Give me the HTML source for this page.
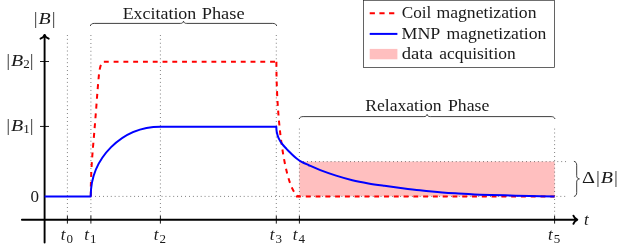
<!DOCTYPE html>
<html><head><meta charset="utf-8">
<style>
html,body{margin:0;padding:0;background:#fff;}
body{width:623px;height:248px;overflow:hidden;font-family:"Liberation Serif",serif;}
svg{display:block;will-change:transform;opacity:0.999;}
text{font-family:"Liberation Serif",serif;fill:#1a1a1a;font-size:17px;}
.i{font-style:italic;}
.s{font-size:13px;}
</style></head><body>
<svg width="623" height="248" viewBox="0 0 623 248">
<rect width="623" height="248" fill="#fff"/>
<rect x="299.4" y="161.6" width="255.2" height="34.7" fill="#ffbfbf"/>
<g stroke="#222" stroke-width="0.75" stroke-dasharray="0.75 3.16" fill="none">
<path d="M67.4 35V219.75"/>
<path d="M90.9 35.2V219.75"/>
<path d="M160.4 35V219.75"/>
<path d="M276.3 35V219.75"/>
<path d="M299.4 128.7V219.75"/>
<path d="M554.6 128.7V219.75"/>
<path d="M95.2 196.4H567.6"/>
<path d="M299.4 161.6H567.6"/>
</g>
<g stroke="#000" stroke-width="1.9" fill="none" stroke-linecap="round" stroke-linejoin="round">
<path d="M21.9 219.75H576.3"/>
<path d="M44.6 242.5V35.2"/>
<path d="M40.5 38.7C42.300000000000004 38 44.1 36.3 44.6 34.9C45.1 36.3 46.9 38 48.7 38.7"/>
<path d="M573.4 215.65C574.1 217.45 576 219.25 577.3 219.75C576 220.25 574.1 222.05 573.4 223.85"/>
</g>
<g stroke="#000" stroke-width="0.9" fill="none">
<path d="M40 61.5H49M40 126.45H49"/>
<path d="M67.4 215.800V223.6M90.9 215.800V223.6M160.4 215.800V223.6M276.3 215.800V223.6M299.4 215.800V223.6M554.6 215.800V223.6"/>
</g>
<g stroke="#f00" stroke-width="2" stroke-dasharray="4.89 4.89" fill="none">
<path d="M90.80 196.40C90.82 194.33 90.78 188.73 90.90 184.00C91.02 179.27 91.22 173.33 91.50 168.00C91.78 162.67 92.13 158.00 92.60 152.00C93.07 146.00 93.73 138.83 94.30 132.00C94.87 125.17 95.47 117.83 96.00 111.00C96.53 104.17 97.00 97.13 97.50 91.00C98.00 84.87 98.60 77.95 99.00 74.20C99.40 70.45 99.53 70.15 99.90 68.50C100.27 66.85 100.53 65.43 101.20 64.30C101.87 63.17 103.45 62.13 103.90 61.70"/>
<path d="M103.85 61.7H276.4"/>
<path d="M276.40 61.70 C276.40 136.09 288.00 196.40 299.60 196.40"/>
<path d="M296 196.4H554.6"/>
</g>
<path d="M44.60 196.40H90.70C90.70 157.90 121.90 126.65 160.40 126.65H276.3C276.38 127.54 276.37 130.09 276.75 132.00C277.13 133.91 277.68 136.07 278.60 138.10C279.53 140.13 280.95 142.37 282.30 144.20C283.65 146.03 285.32 147.63 286.70 149.10C288.08 150.57 289.00 151.48 290.60 153.00C292.20 154.52 294.47 156.73 296.30 158.20C298.13 159.67 299.58 160.67 301.60 161.80C303.62 162.93 305.28 163.62 308.40 165.00C311.52 166.38 315.68 168.33 320.30 170.10C324.92 171.87 330.77 173.92 336.10 175.60C341.43 177.28 346.92 178.90 352.30 180.20C357.68 181.50 363.03 182.47 368.40 183.40C373.77 184.33 379.13 185.05 384.50 185.80C389.87 186.55 394.68 187.17 400.60 187.90C406.52 188.63 413.05 189.45 420.00 190.20C426.95 190.95 435.90 191.85 442.30 192.40C448.70 192.95 453.03 193.17 458.40 193.50C463.77 193.83 469.13 194.15 474.50 194.40C479.87 194.65 484.68 194.82 490.60 195.00C496.52 195.18 503.43 195.33 510.00 195.50C516.57 195.67 522.57 195.85 530.00 196.00C537.43 196.15 550.50 196.33 554.60 196.40" stroke="#00f" stroke-width="2" fill="none" stroke-linejoin="round"/>
<g stroke="#2a2a2a" stroke-width="0.9" fill="none" stroke-linecap="round">
<path d="M90.40 25.60C90.70 24.30 92.00 23.40 94.20 23.40H180.30C182.10 23.40 183.20 22.70 183.50 21.20C183.80 22.70 184.90 23.40 186.70 23.40H272.80C275.00 23.40 276.30 24.30 276.60 25.60"/>
<path d="M299.30 118.60C299.60 117.50 300.90 116.60 303.10 116.60H423.90C425.70 116.60 426.80 115.90 427.10 114.40C427.40 115.90 428.50 116.60 430.30 116.60H551.10C553.30 116.60 554.60 117.50 554.90 118.60"/>
<path d="M574.30 161.40C575.80 161.70 576.70 163.00 576.70 165.20V175.70C576.70 177.50 577.40 178.60 579.40 178.90C577.40 179.20 576.70 180.30 576.70 182.10V192.60C576.70 194.80 575.80 196.10 574.30 196.40"/>
</g>
<rect x="363.500" y="0.3" width="191" height="67.100" fill="#fff" stroke="#222" stroke-width="0.7"/>
<path d="M369.700 13.300H395" stroke="#f00" stroke-width="2" stroke-dasharray="5.200 4.500"/>
<path d="M369.700 33.900H397.400" stroke="#00f" stroke-width="2"/>
<rect x="369.700" y="48.900" width="27.700" height="10.400" fill="#ffbfbf"/>
<text x="401.70" y="18.4" textLength="29.62" lengthAdjust="spacingAndGlyphs">Coil</text>
<text x="436.46" y="18.4" textLength="100.10" lengthAdjust="spacingAndGlyphs">magnetization</text>
<text x="401.44" y="38.7" textLength="38.88" lengthAdjust="spacingAndGlyphs">MNP</text>
<text x="446.48" y="38.7" textLength="99.84" lengthAdjust="spacingAndGlyphs">magnetization</text>
<text x="401.70" y="58.8" textLength="31.08" lengthAdjust="spacingAndGlyphs">data</text>
<text x="439.20" y="58.8" textLength="76.60" lengthAdjust="spacingAndGlyphs">acquisition</text>
<text x="122.68" y="18.6" textLength="73.60" lengthAdjust="spacingAndGlyphs">Excitation</text>
<text x="201.68" y="18.6" textLength="42.88" lengthAdjust="spacingAndGlyphs">Phase</text>
<text x="365.20" y="111.1" textLength="76.34" lengthAdjust="spacingAndGlyphs">Relaxation</text>
<text x="447.96" y="111.1" textLength="41.32" lengthAdjust="spacingAndGlyphs">Phase</text>
<g id="lblB"><text x="34" y="23.800">|</text><text x="38.500" y="23.800" class="i" textLength="12.200" lengthAdjust="spacingAndGlyphs">B</text><text x="52" y="23.800">|</text></g>
<g><text x="6.500" y="65.900">|</text><text x="11" y="65.900" class="i" textLength="12.200" lengthAdjust="spacingAndGlyphs">B</text><text x="23.300" y="68" class="s">2</text><text x="30.100" y="65.900">|</text></g>
<g><text x="6.500" y="130.700">|</text><text x="11" y="130.700" class="i" textLength="12.200" lengthAdjust="spacingAndGlyphs">B</text><text x="23.300" y="132.800" class="s">1</text><text x="30.100" y="130.700">|</text></g>
<text x="30.500" y="202">0</text>
<g><text x="582.100" y="183.100" textLength="13" lengthAdjust="spacingAndGlyphs" font-size="18">Δ</text><text x="596.200" y="183.100">|</text><text x="600.700" y="183.100" class="i" textLength="12.200" lengthAdjust="spacingAndGlyphs">B</text><text x="614.300" y="183.100">|</text></g>
<text x="584" y="224.600" class="i" font-size="20.500">t</text>
<text x="60.8" y="239.800" class="i" font-size="20.500">t</text><text x="66.5" y="242.900" class="s">0</text>
<text x="84.3" y="239.800" class="i" font-size="20.500">t</text><text x="90.0" y="242.900" class="s">1</text>
<text x="153.8" y="239.800" class="i" font-size="20.500">t</text><text x="159.5" y="242.900" class="s">2</text>
<text x="269.7" y="239.800" class="i" font-size="20.500">t</text><text x="275.4" y="242.900" class="s">3</text>
<text x="292.8" y="239.800" class="i" font-size="20.500">t</text><text x="298.5" y="242.900" class="s">4</text>
<text x="548.0" y="239.800" class="i" font-size="20.500">t</text><text x="553.7" y="242.900" class="s">5</text>
</svg>
</body></html>
